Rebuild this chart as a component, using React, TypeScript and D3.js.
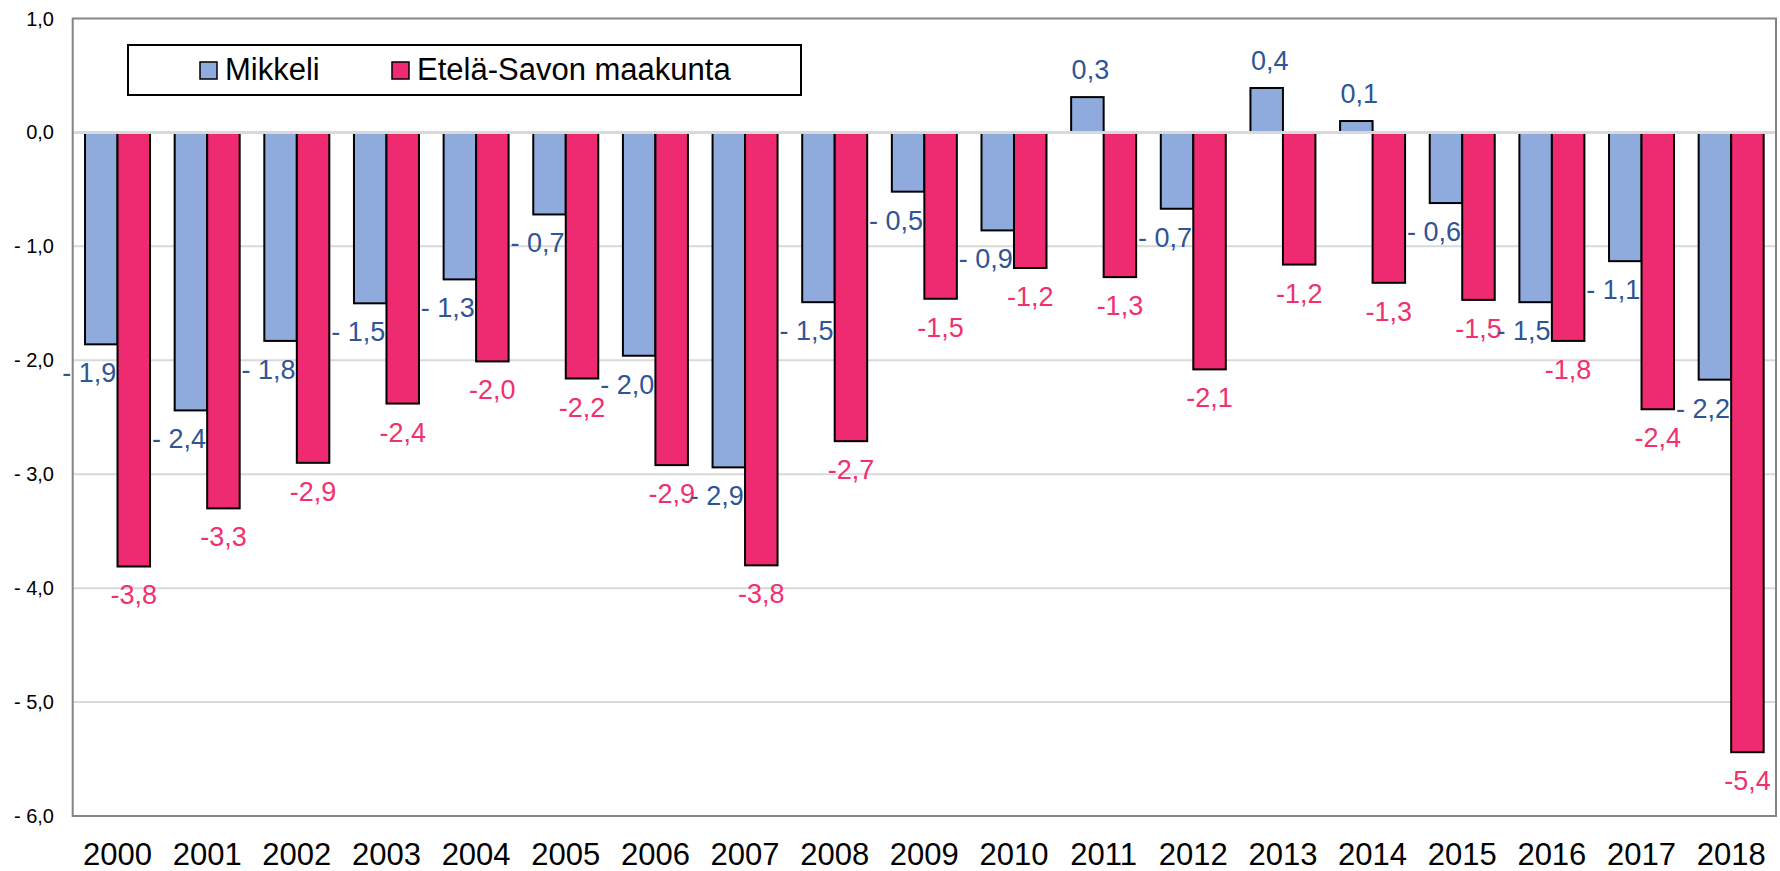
import React, { useEffect, useRef } from 'react';
import * as d3 from 'd3';

const years = ['2000', '2001', '2002', '2003', '2004', '2005', '2006', '2007', '2008', '2009',
    '2010', '2011', '2012', '2013', '2014', '2015', '2016', '2017', '2018'];
const mikkeli = [-1.86, -2.44, -1.83, -1.50, -1.29, -0.72, -1.96, -2.94, -1.49, -0.52,
    -0.86, 0.31, -0.67, 0.39, 0.10, -0.62, -1.49, -1.13, -2.17];
const etelaSavo = [-3.81, -3.30, -2.90, -2.38, -2.01, -2.16, -2.92, -3.80, -2.71, -1.46,
    -1.19, -1.27, -2.08, -1.16, -1.32, -1.47, -1.83, -2.43, -5.44];
const seriesNames = ['Mikkeli', 'Etelä-Savon maakunta'];
const yTicks = [1, 0, -1, -2, -3, -4, -5, -6];

const W = 1780;
const H = 871;
const FONT = 'Arial, "Liberation Sans", Helvetica, sans-serif';
const BLUE = '#8FAADC';
const RED = '#EE2B70';
const BLUE_TEXT = '#2F5597';
const RED_TEXT = '#F0306F';

// "1,0", "- 1,0" style used by the original axis
const fmtAxis = (v: number) => (v < 0 ? '- ' : '') + Math.abs(v).toFixed(1).replace('.', ',');
const fmtBlue = (v: number) => (v < 0 ? '- ' : '') + Math.abs(v).toFixed(1).replace('.', ',');
const fmtRed = (v: number) => v.toFixed(1).replace('.', ',');

const App: React.FC = () => {
    const svgRef = useRef<SVGSVGElement>(null);

    useEffect(() => {
        if (!svgRef.current) return;
        const svg = d3.select(svgRef.current);
        svg.selectAll('*').remove();

        const plot = { left: 72.7, right: 1776, top: 18.5, bottom: 816 };

        const x = d3.scaleBand<string>()
            .domain(years)
            .range([plot.left, plot.right])
            .paddingInner(0.275)
            .paddingOuter(0.1375);

        const xInner = d3.scaleBand<number>()
            .domain([0, 1])
            .range([0, x.bandwidth()]);

        const y = d3.scaleLinear()
            .domain([-6, 1])
            .range([plot.bottom, plot.top]);

        svg.append('rect')
            .attr('width', W)
            .attr('height', H)
            .attr('fill', '#fff');

        // gridlines
        svg.append('g')
            .selectAll('line')
            .data(yTicks.filter(t => t < 1 && t > -6))
            .enter()
            .append('line')
            .attr('x1', plot.left)
            .attr('x2', plot.right)
            .attr('y1', d => y(d))
            .attr('y2', d => y(d))
            .attr('stroke', '#d9d9d9')
            .attr('stroke-width', 2);

        // y tick labels
        svg.append('g')
            .selectAll('text')
            .data(yTicks)
            .enter()
            .append('text')
            .attr('x', 54)
            .attr('y', d => y(d) + 7)
            .attr('text-anchor', 'end')
            .attr('font-family', FONT)
            .attr('font-size', 20)
            .attr('fill', '#000')
            .text(d => fmtAxis(d));

        const rows = years.map((yr, i) => ({ yr, vals: [mikkeli[i], etelaSavo[i]] }));

        const groups = svg.append('g')
            .selectAll('g')
            .data(rows)
            .enter()
            .append('g')
            .attr('transform', d => `translate(${x(d.yr)},0)`);

        groups.selectAll('rect')
            .data(d => d.vals.map((v, k) => ({ v, k })))
            .enter()
            .append('rect')
            .attr('x', d => xInner(d.k)!)
            .attr('width', xInner.bandwidth())
            .attr('y', d => y(Math.max(0, d.v)))
            .attr('height', d => Math.abs(y(d.v) - y(0)))
            .attr('fill', d => (d.k === 0 ? BLUE : RED))
            .attr('stroke', '#000')
            .attr('stroke-width', 2);

        // zero axis line over the bars
        svg.append('line')
            .attr('x1', plot.left)
            .attr('x2', plot.right)
            .attr('y1', y(0))
            .attr('y2', y(0))
            .attr('stroke', '#d9d9d9')
            .attr('stroke-width', 3);

        // plot border
        svg.append('rect')
            .attr('x', plot.left)
            .attr('y', plot.top)
            .attr('width', plot.right - plot.left)
            .attr('height', plot.bottom - plot.top)
            .attr('fill', 'none')
            .attr('stroke', '#858585')
            .attr('stroke-width', 2);

        // value labels
        const labels = svg.append('g');
        rows.forEach(r => {
            r.vals.forEach((v, k) => {
                const cx = x(r.yr)! + xInner(k)! + xInner.bandwidth() / 2;
                const ty = v >= 0 ? y(v) - 18 : y(v) + 38;
                labels.append('text')
                    .attr('x', k === 0 && v < 0 ? cx - 12 : cx + (v >= 0 ? 3 : 0))
                    .attr('y', ty)
                    .attr('text-anchor', 'middle')
                    .attr('font-family', FONT)
                    .attr('font-size', 27)
                    .attr('fill', k === 0 ? BLUE_TEXT : RED_TEXT)
                    .text(k === 0 ? fmtBlue(v) : fmtRed(v));
            });
        });

        // year labels
        svg.append('g')
            .selectAll('text')
            .data(years)
            .enter()
            .append('text')
            .attr('x', d => x(d)! + x.bandwidth() / 2)
            .attr('y', 865)
            .attr('text-anchor', 'middle')
            .attr('font-family', FONT)
            .attr('font-size', 31)
            .attr('fill', '#000')
            .text(d => d);

        // legend
        const lg = svg.append('g');
        lg.append('rect')
            .attr('x', 128)
            .attr('y', 45)
            .attr('width', 673)
            .attr('height', 50)
            .attr('fill', '#fff')
            .attr('stroke', '#000')
            .attr('stroke-width', 2);
        const legendX = [200, 392];
        seriesNames.forEach((name, i) => {
            lg.append('rect')
                .attr('x', legendX[i])
                .attr('y', 62)
                .attr('width', 17)
                .attr('height', 17)
                .attr('fill', i === 0 ? BLUE : RED)
                .attr('stroke', '#000')
                .attr('stroke-width', 1.5);
            lg.append('text')
                .attr('x', legendX[i] + 25)
                .attr('y', 80)
                .attr('font-family', FONT)
                .attr('font-size', 31)
                .attr('fill', '#000')
                .text(name);
        });
    }, []);

    return (
        <svg
            ref={svgRef}
            width={W}
            height={H}
            style={{ position: 'absolute', left: 0, top: 0, display: 'block' }}
        />
    );
};

export default App;
